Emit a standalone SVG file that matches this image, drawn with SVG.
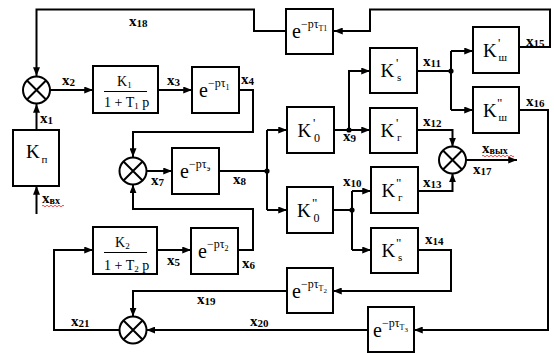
<svg xmlns="http://www.w3.org/2000/svg" width="554" height="353" viewBox="0 0 554 353">
<style>
.bx{fill:#fff;stroke:#000;stroke-width:2}
.ln{fill:none;stroke:#000;stroke-width:2}
.cr{fill:none;stroke:#000;stroke-width:2}
.t{font-family:"Liberation Serif","Times New Roman",serif;fill:#000}
.lb{font-family:"Liberation Serif","Times New Roman",serif;font-weight:bold;font-size:15px;fill:#000}
.k{font-size:19px}
.e{font-size:20px}
.sq{fill:none;stroke:#e02020;stroke-width:0.8}
</style>
<defs>
<marker id="a" viewBox="0 0 10 8" refX="10" refY="4" markerWidth="9" markerHeight="7" orient="auto" markerUnits="userSpaceOnUse"><path d="M0,0 L10,4 L0,8 z" fill="#000"/></marker>
</defs>
<g id="connectors">
<path class="ln" d="M519,47 H550 V9.5 H370 V31 H334" marker-end="url(#a)"/>
<path class="ln" d="M286,31 H254 V9.5 H36.5 V76" marker-end="url(#a)"/>
<path class="ln" d="M36.5,130 V104" marker-end="url(#a)"/>
<path class="ln" d="M36.5,214 V186" marker-end="url(#a)"/>
<path class="ln" d="M50,90 H93" marker-end="url(#a)"/>
<path class="ln" d="M158,90 H192" marker-end="url(#a)"/>
<path class="ln" d="M239,90 H253 V132 H133 V157" marker-end="url(#a)"/>
<path class="ln" d="M146.5,171 H172" marker-end="url(#a)"/>
<path class="ln" d="M219,171 H267 M267,130 V210"/>
<path class="ln" d="M267,130 H287" marker-end="url(#a)"/>
<path class="ln" d="M267,210 H287" marker-end="url(#a)"/>
<path class="ln" d="M334,130 H370" marker-end="url(#a)"/>
<path class="ln" d="M349,130 V71 H370" marker-end="url(#a)"/>
<path class="ln" d="M417,71 H451 M451,51 V110"/>
<path class="ln" d="M451,51 H473" marker-end="url(#a)"/>
<path class="ln" d="M451,110 H473" marker-end="url(#a)"/>
<path class="ln" d="M417,130 H452.5 V146.5" marker-end="url(#a)"/>
<path class="ln" d="M466,160 H517" marker-end="url(#a)"/>
<path class="ln" d="M333,210 H352 M352,191 V250"/>
<path class="ln" d="M352,191 H371" marker-end="url(#a)"/>
<path class="ln" d="M352,250 H371" marker-end="url(#a)"/>
<path class="ln" d="M418,191 H452.5 V173.5" marker-end="url(#a)"/>
<path class="ln" d="M519,110 H548 V330 H414" marker-end="url(#a)"/>
<path class="ln" d="M368,330 H146.5" marker-end="url(#a)"/>
<path class="ln" d="M418,250 H451 V291 H333" marker-end="url(#a)"/>
<path class="ln" d="M287,291 H133 V316.5" marker-end="url(#a)"/>
<path class="ln" d="M119.5,330 H54 V250 H93" marker-end="url(#a)"/>
<path class="ln" d="M157,250 H191" marker-end="url(#a)"/>
<path class="ln" d="M238,250 H253 V209 H133 V184.5" marker-end="url(#a)"/>
<circle cx="267" cy="171" r="2.6"/>
<circle cx="349" cy="130" r="2.6"/>
<circle cx="451" cy="71" r="2.6"/>
<circle cx="352" cy="210" r="2.6"/>
</g>
<g id="sum1"><circle class="bx" cx="36.5" cy="90" r="13.5"/><path class="cr" d="M27,80.5 L46,99.5 M46,80.5 L27,99.5"/></g>
<g id="sum2"><circle class="bx" cx="133" cy="171" r="13.5"/><path class="cr" d="M123.5,161.5 L142.5,180.5 M142.5,161.5 L123.5,180.5"/></g>
<g id="sum3"><circle class="bx" cx="133" cy="330" r="13.5"/><path class="cr" d="M123.5,320.5 L142.5,339.5 M142.5,320.5 L123.5,339.5"/></g>
<g id="sum4"><circle class="bx" cx="452.5" cy="160" r="13.5"/><path class="cr" d="M443,150.5 L462,169.5 M462,150.5 L443,169.5"/></g>
<g id="Kp"><rect class="bx" x="13" y="130" width="46" height="56"/><text class="t k" x="26" y="158">K</text><text class="t" x="41.5" y="163" font-size="11">п</text></g>
<g id="W1"><rect class="bx" x="93" y="66" width="65" height="47"/><text class="t" x="117" y="86" font-size="14">K<tspan font-size="9" dy="2">1</tspan></text><path d="M104,91.5 H147" stroke="#000" stroke-width="1"/><text class="t" x="104" y="107" font-size="14">1 + T<tspan font-size="9" dy="2">1</tspan><tspan dy="-2"> p</tspan></text></g>
<g id="D1"><rect class="bx" x="192" y="67" width="47" height="46"/><text class="t e" x="199" y="97">e<tspan font-size="12" dy="-10">−pτ</tspan><tspan font-size="8" dy="3">1</tspan></text></g>
<g id="DT1"><rect class="bx" x="286" y="9" width="47" height="45"/><text class="t e" x="292" y="38">e<tspan font-size="12" dy="-10">−pτ</tspan><tspan font-size="8" dy="3">T1</tspan></text></g>
<g id="De"><rect class="bx" x="172" y="148" width="47" height="46"/><text class="t e" x="180" y="178">e<tspan font-size="12" dy="-10">−pτ</tspan><tspan font-size="9" dy="3">э</tspan></text></g>
<g id="W2"><rect class="bx" x="93" y="227" width="64" height="47"/><text class="t" x="115" y="247" font-size="14">K<tspan font-size="9" dy="2">2</tspan></text><path d="M104,252.5 H147" stroke="#000" stroke-width="1"/><text class="t" x="104" y="270" font-size="14">1 + T<tspan font-size="9" dy="2">2</tspan><tspan dy="-2"> p</tspan></text></g>
<g id="D2"><rect class="bx" x="191" y="228" width="47" height="46"/><text class="t e" x="198" y="258">e<tspan font-size="12" dy="-10">−pτ</tspan><tspan font-size="8" dy="3">2</tspan></text></g>
<g id="DT2"><rect class="bx" x="287" y="268" width="46" height="45"/><text class="t e" x="292" y="298">e<tspan font-size="12" dy="-10">−pτ</tspan><tspan font-size="8" dy="3">T</tspan><tspan font-size="7" dy="2">2</tspan></text></g>
<g id="DT3"><rect class="bx" x="368" y="307" width="46" height="45"/><text class="t e" x="373" y="337">e<tspan font-size="12" dy="-10">−pτ</tspan><tspan font-size="8" dy="3">T</tspan><tspan font-size="7" dy="2">3</tspan></text></g>
<g id="K01"><rect class="bx" x="287" y="107" width="47" height="46"/><text class="t k" x="297.5" y="137">K</text><text class="t" x="313" y="127" font-size="13">'</text><text class="t" x="314" y="142" font-size="12">0</text></g>
<g id="K02"><rect class="bx" x="287" y="187" width="46" height="46"/><text class="t k" x="297" y="217">K</text><text class="t" x="312" y="207" font-size="13">"</text><text class="t" x="313.5" y="222" font-size="12">0</text></g>
<g id="Ks1"><rect class="bx" x="370" y="48" width="47" height="45"/><text class="t k" x="380.5" y="77">K</text><text class="t" x="396" y="67" font-size="13">'</text><text class="t" x="397" y="81" font-size="11">s</text></g>
<g id="Kg1"><rect class="bx" x="370" y="108" width="47" height="45"/><text class="t k" x="380.5" y="137">K</text><text class="t" x="396" y="127" font-size="13">'</text><text class="t" x="397" y="141" font-size="11">г</text></g>
<g id="Kg2"><rect class="bx" x="371" y="167" width="47" height="46"/><text class="t k" x="381.5" y="197">K</text><text class="t" x="396" y="187" font-size="13">"</text><text class="t" x="398" y="201" font-size="11">г</text></g>
<g id="Ks2"><rect class="bx" x="371" y="228" width="47" height="45"/><text class="t k" x="381.5" y="257">K</text><text class="t" x="396" y="247" font-size="13">"</text><text class="t" x="398" y="261" font-size="11">s</text></g>
<g id="Ksh1"><rect class="bx" x="473" y="27" width="46" height="46"/><text class="t k" x="483" y="57">K</text><text class="t" x="498" y="47" font-size="13">'</text><text class="t" x="498.5" y="61" font-size="11">ш</text></g>
<g id="Ksh2"><rect class="bx" x="473" y="87" width="46" height="46"/><text class="t k" x="483" y="117">K</text><text class="t" x="497" y="107" font-size="13">"</text><text class="t" x="498.5" y="121" font-size="11">ш</text></g>
<g id="labels">
<text class="lb" x="129" y="26">x<tspan font-size="11" dy="1">18</tspan></text>
<text class="lb" x="62" y="85">x<tspan font-size="11" dy="1">2</tspan></text>
<text class="lb" x="167" y="85">x<tspan font-size="11" dy="1">3</tspan></text>
<text class="lb" x="241" y="84">x<tspan font-size="11" dy="1">4</tspan></text>
<text class="lb" x="40" y="123">x<tspan font-size="11" dy="1">1</tspan></text>
<text class="lb" x="42" y="203">x<tspan font-size="10" dy="1">вх</tspan></text>
<text class="lb" x="151" y="185">x<tspan font-size="11" dy="1">7</tspan></text>
<text class="lb" x="233" y="184">x<tspan font-size="11" dy="1">8</tspan></text>
<text class="lb" x="343" y="141">x<tspan font-size="11" dy="1">9</tspan></text>
<text class="lb" x="343" y="186">x<tspan font-size="11" dy="1">10</tspan></text>
<text class="lb" x="423" y="66">x<tspan font-size="11" dy="1">11</tspan></text>
<text class="lb" x="423" y="126">x<tspan font-size="11" dy="1">12</tspan></text>
<text class="lb" x="423" y="187">x<tspan font-size="11" dy="1">13</tspan></text>
<text class="lb" x="425" y="244">x<tspan font-size="11" dy="1">14</tspan></text>
<text class="lb" x="526" y="46">x<tspan font-size="11" dy="1">15</tspan></text>
<text class="lb" x="526" y="106">x<tspan font-size="11" dy="1">16</tspan></text>
<text class="lb" x="473" y="174">x<tspan font-size="11" dy="1">17</tspan></text>
<text class="lb" x="482" y="153">x<tspan font-size="10" dy="1">вых</tspan></text>
<text class="lb" x="167" y="265">x<tspan font-size="11" dy="1">5</tspan></text>
<text class="lb" x="242" y="268">x<tspan font-size="11" dy="1">6</tspan></text>
<text class="lb" x="197" y="304">x<tspan font-size="11" dy="1">19</tspan></text>
<text class="lb" x="250" y="326">x<tspan font-size="11" dy="1">20</tspan></text>
<text class="lb" x="71" y="326">x<tspan font-size="11" dy="1">21</tspan></text>
<path class="sq" d="M42,206 q1,-1.5 2,0 t2,0 t2,0 t2,0 t2,0 t2,0 t2,0 t2,0 t2,0 t2,0 t2,0"/>
<path class="sq" d="M482,156 q1,-1.5 2,0 t2,0 t2,0 t2,0 t2,0 t2,0 t2,0 t2,0 t2,0 t2,0 t2,0 t2,0 t2,0 t2,0 t2,0 t2,0"/>
</g>
</svg>
